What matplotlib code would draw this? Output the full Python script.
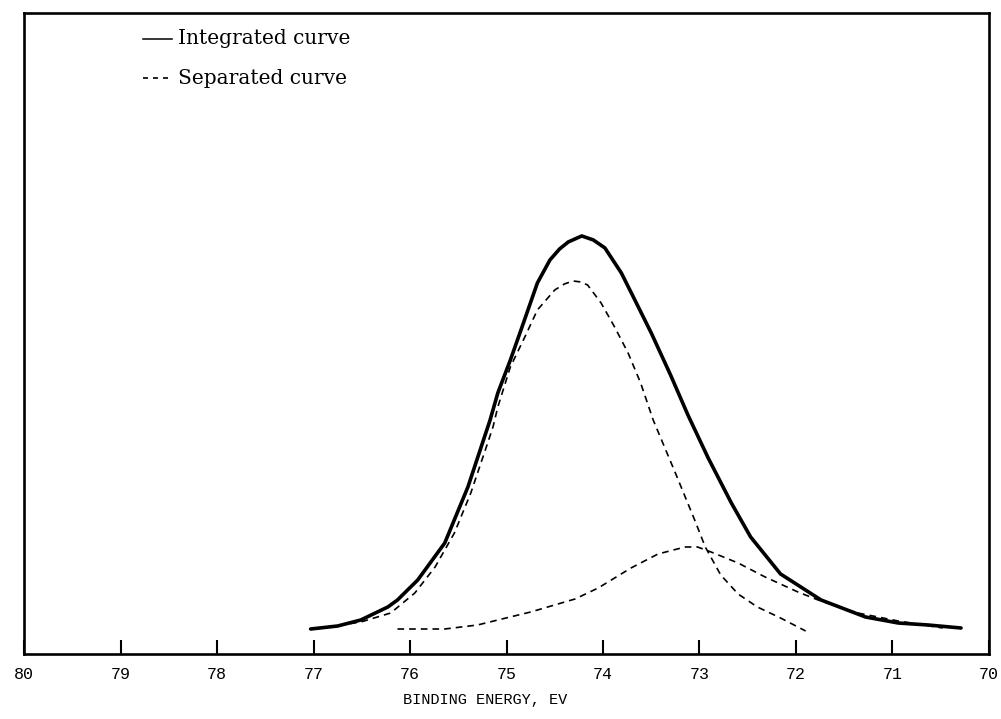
import matplotlib
matplotlib.use("Agg")
import matplotlib.pyplot as plt

# Binding energy (eV) and intensity (arbitrary units)
integrated_x = [77.03, 76.75, 76.51, 76.23, 76.13, 75.92, 75.64, 75.40, 75.17, 75.09,
                74.96, 74.85, 74.68, 74.55, 74.45, 74.36, 74.22, 74.10, 73.98, 73.81,
                73.67, 73.50, 73.30, 73.12, 72.91, 72.67, 72.47, 72.16, 71.74, 71.28,
                70.94, 70.63, 70.29]
integrated_y = [25, 28, 34, 47, 54, 74, 111, 167, 234, 261,
                294, 324, 371, 394, 405, 412, 418, 414, 406, 381,
                354, 321, 279, 239, 196, 151, 117, 80, 54, 37,
                31, 29, 26]

sep1_x = [76.98, 76.51, 76.20, 75.95, 75.74, 75.54, 75.37, 75.23, 75.14, 75.09,
          74.96, 74.81, 74.68, 74.50, 74.40, 74.31, 74.23, 74.16, 74.02, 73.88,
          73.74, 73.61, 73.48, 73.25, 73.05, 72.94, 72.78, 72.60, 72.40, 72.16, 71.90]
sep1_y = [25, 32, 41, 61, 87, 121, 161, 201, 227, 247,
          287, 317, 344, 364, 370, 373, 372, 369, 351, 327,
          301, 271, 234, 181, 134, 107, 79, 60, 47, 36, 23]

sep2_x = [76.13, 75.64, 75.30, 75.09, 74.75, 74.29, 74.05, 73.71, 73.43, 73.15,
          73.02, 72.88, 72.60, 72.32, 71.98, 71.77, 71.36, 70.94, 70.48]
sep2_y = [25, 25, 29, 34, 42, 55, 66, 86, 100, 107,
          107, 102, 91, 77, 62, 54, 41, 33, 26]

xticks = [80, 79, 78, 77, 76, 75, 74, 73, 72, 71, 70]
xlabel = "BINDING ENERGY, EV"
legend_labels = ["Integrated curve", "Separated curve"]

fig = plt.figure(figsize=(10.01, 7.19), dpi=100)
ax = fig.add_axes([0.024, 0.0904, 0.964, 0.8916])

ax.plot(integrated_x, integrated_y, color="black", lw=2.6,
        solid_capstyle="round", solid_joinstyle="round")
ax.plot(sep1_x, sep1_y, color="black", lw=1.2, linestyle=(0, (4, 3)))
ax.plot(sep2_x, sep2_y, color="black", lw=1.2, linestyle=(0, (4, 3)))

ax.set_xlim(80, 70)
ax.set_ylim(0, 641)
ax.set_xticks(xticks)
ax.set_xticklabels([str(t) for t in xticks], family="Liberation Mono", fontsize=12)
ax.set_yticks([])
ax.tick_params(axis="x", direction="in", length=10, width=1.5, pad=9)
for s in ax.spines.values():
    s.set_linewidth(1.9)

fig.text(0.485, 0.017, xlabel, ha="center", va="bottom", family="Liberation Mono", fontsize=11)

# legend drawn manually in axes fraction coordinates
ax.plot([0.123, 0.153], [0.96, 0.96], transform=ax.transAxes, color="black", lw=1.1)
ax.plot([0.123, 0.153], [0.898, 0.898], transform=ax.transAxes, color="black", lw=1.2,
        linestyle=(0, (3, 3)))
ax.text(0.160, 0.96, legend_labels[0], transform=ax.transAxes, va="center", ha="left",
        family="DejaVu Serif", fontsize=14.5)
ax.text(0.160, 0.898, legend_labels[1], transform=ax.transAxes, va="center", ha="left",
        family="DejaVu Serif", fontsize=14.5)

fig.savefig("out.png", dpi=100)
